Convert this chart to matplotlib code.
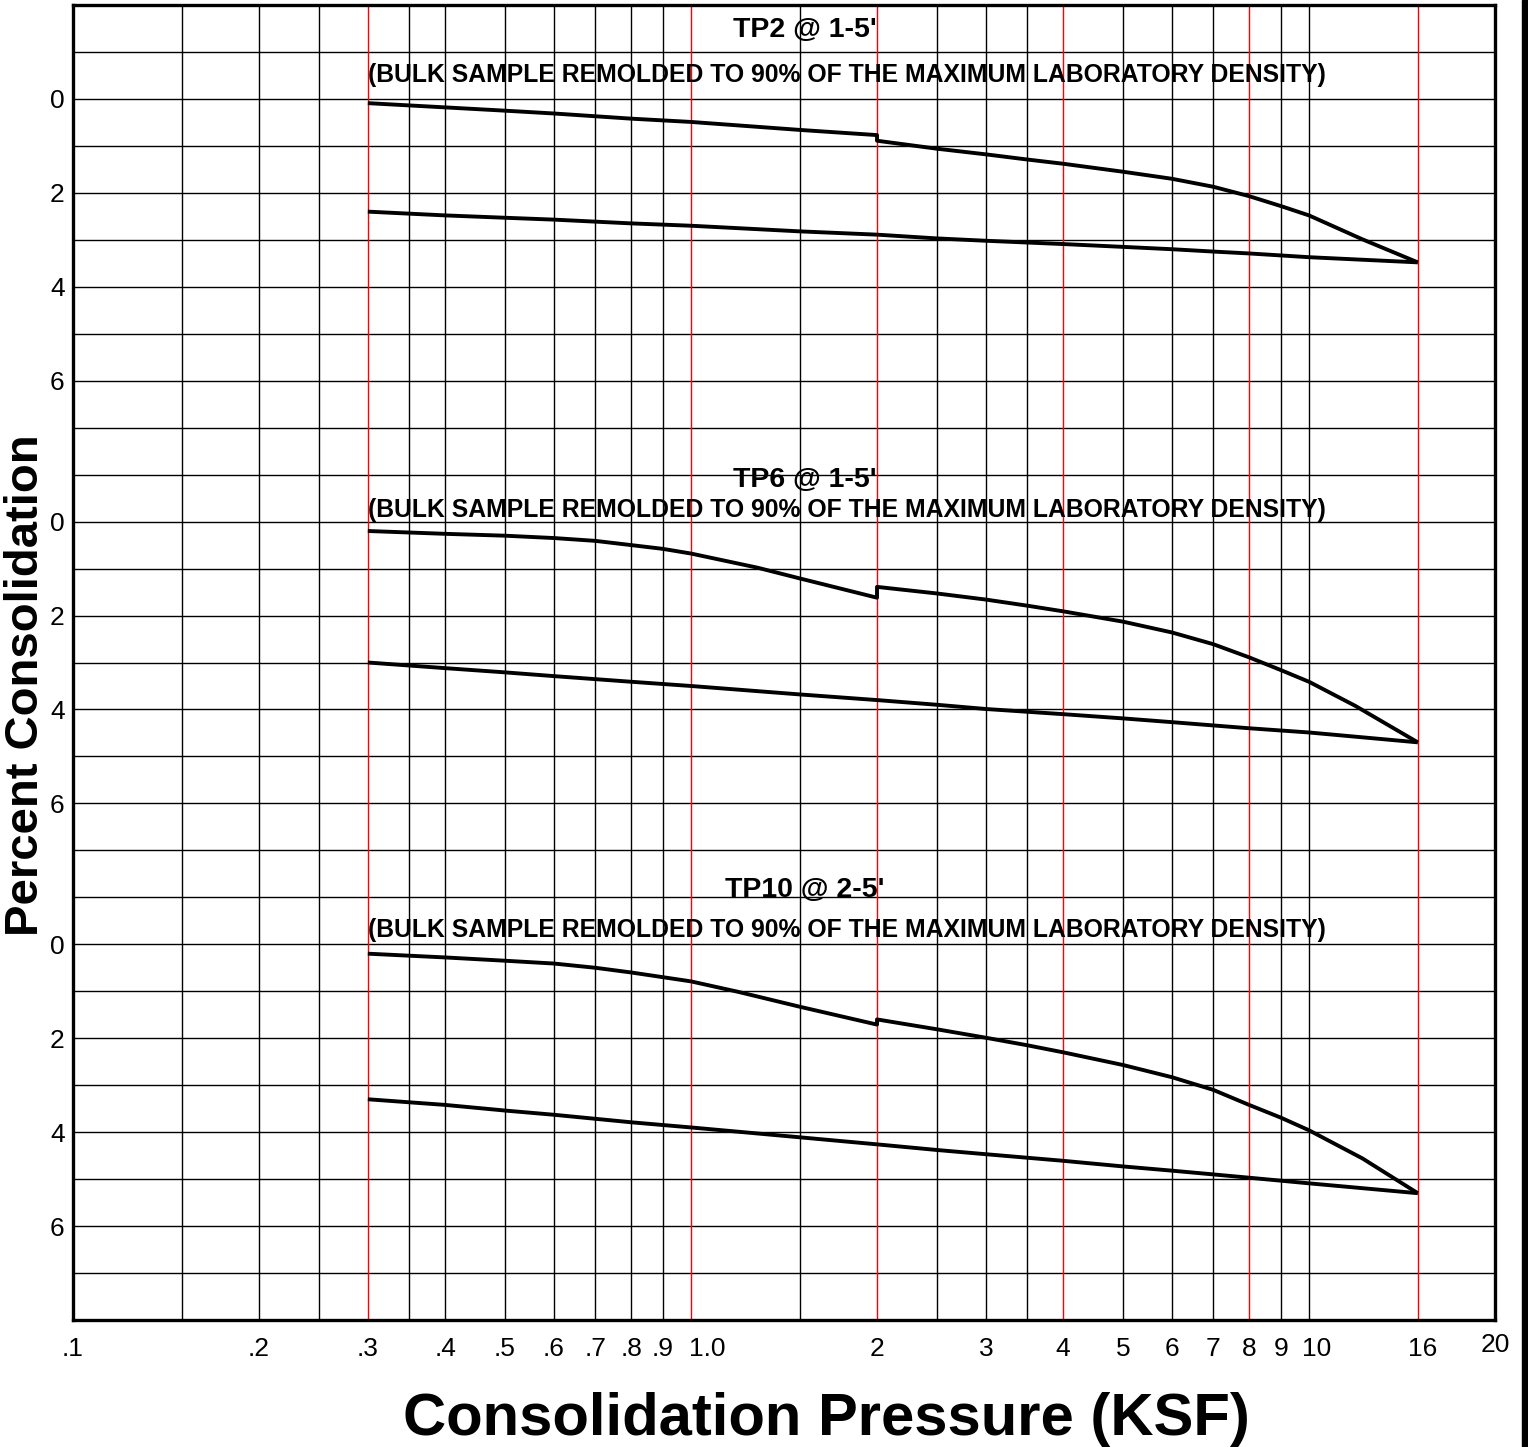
import numpy as np
import matplotlib
matplotlib.use("Agg")
import matplotlib.pyplot as plt
from matplotlib.patches import Rectangle
from matplotlib.transforms import ScaledTranslation

plt.rcParams['font.family'] = ['Liberation Sans', 'DejaVu Sans']

# ---------------- data ----------------
panel_titles = ["TP2 @ 1-5'", "TP6 @ 1-5'", "TP10 @ 2-5'"]
subtitle = "(BULK SAMPLE REMOLDED TO 90% OF THE MAXIMUM LABORATORY DENSITY)"
panel_offsets = [0, 9, 18]

# loading curves (pressure ksf, percent consolidation)
tp2_load_p = [0.3, 0.4, 0.5, 0.6, 0.8, 1.0, 1.5, 2.0, 2.0, 2.5, 3.0, 3.5, 4.0, 5.0, 6.0, 7.0, 8.0, 9.0, 10.0, 12.6, 16.0]
tp2_load_c = [0.09, 0.18, 0.25, 0.31, 0.42, 0.49, 0.66, 0.77, 0.89, 1.06, 1.18, 1.29, 1.38, 1.55, 1.70, 1.87, 2.07, 2.28, 2.48, 2.99, 3.48]
tp2_reb_p = [16.0, 10.0, 8.0, 7.0, 6.0, 5.0, 4.0, 3.0, 2.5, 2.0, 1.5, 1.0, 0.8, 0.6, 0.5, 0.4, 0.3]
tp2_reb_c = [3.48, 3.37, 3.29, 3.25, 3.20, 3.15, 3.09, 3.02, 2.97, 2.89, 2.82, 2.70, 2.65, 2.57, 2.53, 2.48, 2.40]

tp6_load_p = [0.3, 0.4, 0.5, 0.6, 0.7, 0.8, 0.9, 1.0, 1.28, 1.5, 2.0, 2.0, 2.5, 3.0, 3.5, 4.0, 5.0, 6.0, 7.0, 8.0, 9.0, 10.0, 12.2, 16.0]
tp6_load_c = [0.20, 0.26, 0.30, 0.35, 0.41, 0.50, 0.58, 0.68, 0.98, 1.21, 1.62, 1.39, 1.53, 1.66, 1.79, 1.91, 2.13, 2.36, 2.61, 2.89, 3.16, 3.41, 3.92, 4.70]
tp6_reb_p = [16.0, 10.0, 8.0, 7.0, 6.0, 5.0, 4.0, 3.0, 2.5, 2.0, 1.5, 1.0, 0.8, 0.6, 0.5, 0.4, 0.3]
tp6_reb_c = [4.70, 4.49, 4.40, 4.34, 4.27, 4.19, 4.10, 3.99, 3.90, 3.80, 3.68, 3.50, 3.41, 3.29, 3.21, 3.12, 3.00]

tp10_load_p = [0.3, 0.4, 0.5, 0.6, 0.7, 0.8, 0.9, 1.0, 1.19, 1.5, 2.0, 2.0, 2.5, 3.0, 3.5, 4.0, 5.0, 6.0, 7.0, 8.0, 9.0, 10.0, 12.6, 16.0]
tp10_load_c = [0.20, 0.28, 0.35, 0.41, 0.50, 0.60, 0.70, 0.79, 1.01, 1.33, 1.71, 1.60, 1.81, 1.99, 2.15, 2.30, 2.57, 2.83, 3.10, 3.42, 3.69, 3.96, 4.56, 5.30]
tp10_reb_p = [16.0, 10.0, 8.0, 7.0, 6.0, 5.0, 4.0, 3.0, 2.5, 2.0, 1.5, 1.0, 0.8, 0.6, 0.5, 0.4, 0.3]
tp10_reb_c = [5.30, 5.09, 4.97, 4.90, 4.82, 4.73, 4.61, 4.47, 4.38, 4.26, 4.11, 3.90, 3.79, 3.63, 3.54, 3.42, 3.30]

x_tick_values = [0.1, 0.2, 0.3, 0.4, 0.5, 0.6, 0.7, 0.8, 0.9, 1.0, 2, 3, 4, 5, 6, 7, 8, 9, 10, 16, 20]
x_tick_labels = [".1", ".2", ".3", ".4", ".5", ".6", ".7", ".8", ".9", "1.0",
                 "2", "3", "4", "5", "6", "7", "8", "9", "10", "16", "20"]
y_tick_values = [0, 2, 4, 6]
black_grid_x = [0.15, 0.2, 0.25, 0.35, 0.4, 0.5, 0.6, 0.7, 0.8, 0.9,
                1.5, 2.5, 3, 3.5, 5, 6, 7, 9, 10]
red_grid_x = [0.3, 1.0, 2, 4, 8, 16]

# ---------------- scale (log, with the chart's own spacing near 16) ----------------
L16, L15, L20 = np.log10(16), np.log10(15), np.log10(20)
K1 = (L15 - 1) / (L16 - 1)
K2 = (L20 - L15) / (L20 - L16)

def fwd(x):
    l = np.log10(np.clip(np.asarray(x, dtype=float), 1e-6, None))
    return np.where(l <= 1, l, np.where(l <= L16, 1 + (l - 1) * K1, L15 + (l - L16) * K2))

def inv(d):
    d = np.asarray(d, dtype=float)
    l = np.where(d <= 1, d, np.where(d <= L15, 1 + (d - 1) / K1, L16 + (d - L15) / K2))
    return 10 ** l

# ---------------- figure ----------------
W, H, DPI = 1528, 1447, 100
fig = plt.figure(figsize=(W / DPI, H / DPI), dpi=DPI)
ax = fig.add_axes([73 / W, 127 / H, 1422 / W, 1315 / H])
ax.set_xscale('function', functions=(fwd, inv))
ax.set_xlim(0.1, 20)
ax.set_ylim(26, -2)

# grid
for u in range(-1, 26):
    ax.axhline(u, color='black', lw=1.0, zorder=1)
for gx in black_grid_x:
    ax.axvline(gx, color='black', lw=1.0, zorder=1)
for gx in red_grid_x:
    ax.axvline(gx, color='#ff0000', lw=1.0, zorder=1.5)

series = [
    (tp2_load_p, tp2_load_c, tp2_reb_p, tp2_reb_c),
    (tp6_load_p, tp6_load_c, tp6_reb_p, tp6_reb_c),
    (tp10_load_p, tp10_load_c, tp10_reb_p, tp10_reb_c),
]
for off, (lp, lc, rp, rc) in zip(panel_offsets, series):
    ax.plot(lp, np.array(lc) + off, color='black', lw=2.8, zorder=3,
            solid_joinstyle='round', solid_capstyle='butt')
    ax.plot(rp, np.array(rc) + off, color='black', lw=2.8, zorder=3,
            solid_joinstyle='round', solid_capstyle='butt')

# titles
title_dy = [-1.47, -0.88, -1.15]
sub_dy = [-0.50, -0.24, -0.30]
trans = ax.get_yaxis_transform()
for off, t, tdy, sdy in zip(panel_offsets, panel_titles, title_dy, sub_dy):
    ax.text(0.5148, off + tdy, t, transform=trans, ha='center', va='center',
            fontsize=20.5, fontweight='bold', zorder=4)
    ax.text(0.3, off + sdy, subtitle, ha='left', va='center',
            fontsize=17.8, fontweight='bold', zorder=4)

# ticks
ax.set_xticks(x_tick_values)
ax.set_xticklabels(x_tick_labels)
yt, ytl = [], []
for off in panel_offsets:
    for v in y_tick_values:
        yt.append(off + v)
        ytl.append(str(v))
ax.set_yticks(yt)
ax.set_yticklabels(ytl)
ax.xaxis.set_minor_locator(matplotlib.ticker.NullLocator())
ax.tick_params(axis='both', length=0, labelsize=19)
ax.tick_params(axis='x', pad=12.5)
ax.tick_params(axis='y', pad=6)

# small label nudges as on the original form
nudges = {"1.0": (16, 0), "10": (8, 0), "16": (5, 0), "20": (0, 4)}
for lab in ax.get_xticklabels():
    txt = lab.get_text()
    if txt in nudges:
        dx, dy = nudges[txt]
        lab.set_transform(lab.get_transform() + ScaledTranslation(dx / DPI, dy / DPI, fig.dpi_scale_trans))

for s in ax.spines.values():
    s.set_linewidth(2.4)
    s.set_zorder(5)

ax.set_xlabel("Consolidation Pressure (KSF)", fontsize=43, fontweight='bold')
ax.xaxis.set_label_coords(0.53, -0.0545)
ax.set_ylabel("Percent Consolidation", fontsize=34, fontweight='bold')
ax.yaxis.set_label_coords(-0.0176, 0.483)

# right-edge bar
fig.patches.append(Rectangle((1522 / W, 0), 6 / W, 1, transform=fig.transFigure,
                             color='black', zorder=10))

fig.savefig("out.png", dpi=DPI)
